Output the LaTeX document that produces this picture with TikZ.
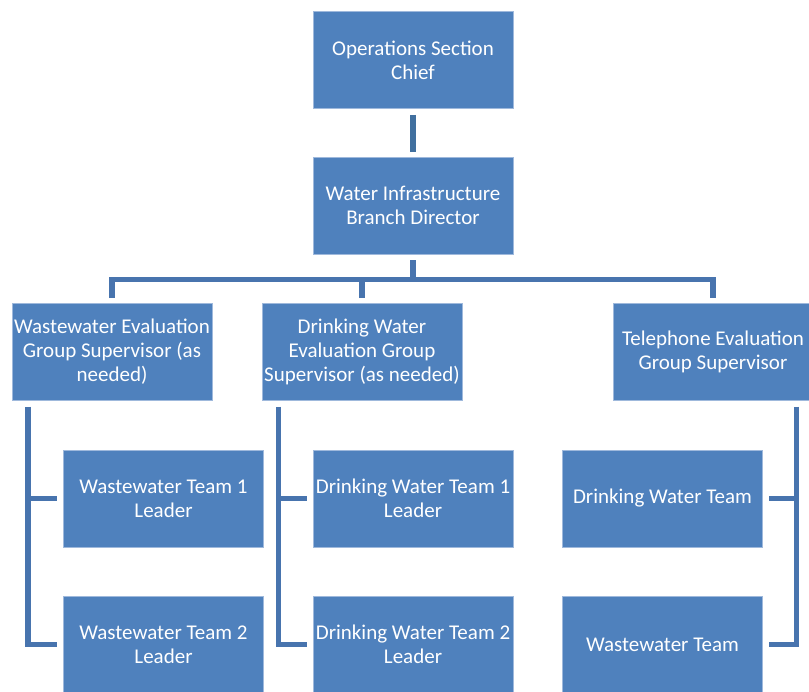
\documentclass[tikz,border=0pt]{standalone}
\usepackage{fontspec}
\setmainfont{Carlito}
\usetikzlibrary{calc}
\definecolor{boxblue}{HTML}{4F81BD}
\definecolor{boxedge}{HTML}{9FB9DC}
\definecolor{conntop}{HTML}{41709F}
\definecolor{conncol}{HTML}{4874AE}
\tikzset{
  orgbox/.style={fill=boxblue, draw=boxedge, line width=0.8pt, text=white,
    minimum width=200pt, minimum height=97pt, inner sep=0pt, align=center,
    font=\fontsize{21}{24}\selectfont},
  conn/.style={draw=conncol, line width=5.5pt, line cap=butt, line join=miter},
}
\begin{document}
\begin{tikzpicture}[x=1pt, y=-1pt]
\useasboundingbox (0,0) rectangle (809,692);
% level 1 and 2
\node[orgbox] (ops) at (413,60) {Operations Section\\Chief};
\node[orgbox] (wib) at (413,205.5) {Water Infrastructure\\Branch Director};
% level 3
\node[orgbox] (l1) at (112,352) {Wastewater Evaluation\\Group Supervisor (as\\needed)};
\node[orgbox] (l2) at (362,352) {Drinking Water\\Evaluation Group\\Supervisor (as needed)};
\node[orgbox] (l3) at (713,352) {Telephone Evaluation\\Group Supervisor};
% level 4
\node[orgbox] (c11) at (163.5,498.5) {Wastewater Team 1\\Leader};
\node[orgbox] (c12) at (163.5,644.5) {Wastewater Team 2\\Leader};
\node[orgbox] (c21) at (413,498.5) {Drinking Water Team 1\\Leader};
\node[orgbox] (c22) at (413,644.5) {Drinking Water Team 2\\Leader};
\node[orgbox] (c31) at (662.5,498.5) {Drinking Water Team};
\node[orgbox] (c32) at (662.5,644.5) {Wastewater Team};
% connectors
\draw[conn, draw=conntop, shorten <=6pt, shorten >=5pt] (ops) -- (wib);
\coordinate (bus) at (413,279.5);
\draw[conn, shorten <=6pt] (wib.south) -- (bus);
\draw[conn, shorten <=5pt, shorten >=5pt] (l1.north) |- (bus) -| (l3.north);
\draw[conn, shorten <=5pt] (l2.north) -- (l2.north |- bus);
% left group
\coordinate (lv) at ($(l1.south west)+(16.5,6)$);
\draw[conn] (lv) |- ([xshift=-6pt]c11.west);
\draw[conn] (lv) |- ([xshift=-6pt]c12.west);
% middle group
\coordinate (mv) at ($(l2.south west)+(17,6)$);
\draw[conn] (mv) |- ([xshift=-6pt]c21.west);
\draw[conn] (mv) |- ([xshift=-6pt]c22.west);
% right group
\coordinate (rv) at ($(l3.south east)+(-17,6)$);
\draw[conn] (rv) |- ([xshift=6pt]c31.east);
\draw[conn] (rv) |- ([xshift=6pt]c32.east);
\end{tikzpicture}
\end{document}
